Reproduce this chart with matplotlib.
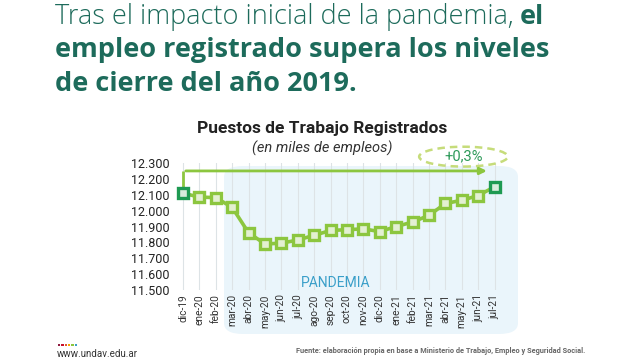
import numpy as np
import matplotlib
matplotlib.use("Agg")
import matplotlib.pyplot as plt
from matplotlib.patches import FancyBboxPatch, Ellipse, Rectangle

# datos (miles de empleos)
meses = ["dic-19", "ene-20", "feb-20", "mar-20", "abr-20", "may-20", "jun-20",
         "jul-20", "ago-20", "sep-20", "oct-20", "nov-20", "dic-20", "ene-21",
         "feb-21", "mar-21", "abr-21", "may-21", "jun-21", "jul-21"]
empleo = [12110, 12085, 12082, 12020, 11860, 11790, 11795, 11815, 11845, 11875,
          11880, 11885, 11868, 11900, 11928, 11970, 12045, 12065, 12095, 12150]
yticks = [11500, 11600, 11700, 11800, 11900, 12000, 12100, 12200, 12300]
ytick_labels = ["11.500", "11.600", "11.700", "11.800", "11.900",
                "12.000", "12.100", "12.200", "12.300"]

teal = "#1d6b5b"
verde = "#8cc63f"
verde_osc = "#1e9a52"
tfont = "Open Sans"

plt.rcParams["font.family"] = ["Roboto", "DejaVu Sans"]

fig = plt.figure(figsize=(6.4, 3.62), dpi=100)
fig.patch.set_facecolor("white")

# titulo principal
t1 = fig.text(55 / 640, 1 - 17 / 362, "Tras el impacto inicial de la pandemia,", fontsize=19.5,
              family=tfont, weight="light", color=teal, va="center", ha="left")
fig.canvas.draw()
bb = t1.get_window_extent()
fig.text(bb.x1 / 640 + 0.009, 1 - 17 / 362, "el", fontsize=19.5, family=tfont, weight="bold",
         color=teal, va="center", ha="left")
fig.text(55 / 640, 1 - 50 / 362, "empleo registrado supera los niveles", fontsize=19.5,
         family=tfont, weight="bold", color=teal, va="center", ha="left")
fig.text(55 / 640, 1 - 84 / 362, "de cierre del año 2019.", fontsize=19.5,
         family=tfont, weight="bold", color=teal, va="center", ha="left")

# subtitulos del grafico
fig.text(322 / 640, 1 - 128 / 362, "Puestos de Trabajo Registrados", fontsize=12.5,
         weight="bold", color="#222222", ha="center", va="center")
fig.text(322 / 640, 1 - 148 / 362, "(en miles de empleos)", fontsize=10.5,
         style="italic", color="#333333", ha="center", va="center")

# zona pandemia
band = FancyBboxPatch((224 / 640, 1 - 334 / 362), (518 - 224) / 640, (334 - 166) / 362,
                      boxstyle="round,pad=0,rounding_size=0.03", transform=fig.transFigure,
                      facecolor="#eaf5fb", edgecolor="none", zorder=-1)
fig.patches.append(band)

ax = fig.add_axes([174 / 640, 1 - 290 / 362, (520 - 174) / 640, 127 / 362])
ax.patch.set_alpha(0)
x = np.arange(len(meses))
ax.set_xlim(-0.55, 20.55)
ax.set_ylim(11500, 12300)

for xi in x:
    ax.axvline(xi, color="#dde3e6", lw=0.8, zorder=0)

ax.plot(x, empleo, color=verde, lw=2.6, zorder=2)
ax.plot(x[1:-1], empleo[1:-1], ls="none", marker="s", ms=7.5, mfc="#e3f0d2",
        mec=verde, mew=2.4, zorder=3)
ax.plot([x[0], x[-1]], [empleo[0], empleo[-1]], ls="none", marker="s", ms=7.5,
        mfc="#d8ecdc", mec=verde_osc, mew=2.4, zorder=4)

# flecha de comparacion
ax.plot([0, 0], [12135, 12250], color=verde, lw=2, zorder=2, solid_capstyle="butt")
ax.annotate("", xy=(18.7, 12250), xytext=(0, 12250),
            arrowprops=dict(arrowstyle="-|>", color=verde, lw=2, mutation_scale=10),
            zorder=2, annotation_clip=False)
ax.add_patch(Ellipse((17.1, 12340), 5.4, 125, fill=False, ls=(0, (3, 2)),
                     edgecolor="#c6dc7a", lw=1.8, clip_on=False))
ax.text(17.1, 12340, "+0,3%", color="#2e9a5a", fontsize=10.5, ha="center", va="center",
        clip_on=False)

ax.text(9.3, 11545, "PANDEMIA", color="#3a9fc9", fontsize=10, ha="center", va="center")

ax.set_xticks(x)
ax.set_xticklabels(meses, rotation=90, fontsize=7.3, color="#333333")
ax.set_yticks(yticks)
ax.set_yticklabels(ytick_labels, fontsize=9, color="#222222")
ax.tick_params(length=0, pad=3)
for s in ax.spines.values():
    s.set_visible(False)

# pie
cols = ["#8e1b3f", "#c8102e", "#e4572e", "#f4a300", "#8cc63f", "#3aa0c8"]
for i, c in enumerate(cols):
    fig.patches.append(Rectangle(((58 + i * 3.3) / 640, 1 - 346 / 362), 2.4 / 640, 2.4 / 362,
                                 transform=fig.transFigure, facecolor=c, edgecolor="none"))
fig.text(57 / 640, 1 - 354 / 362, "www.undav.edu.ar", fontsize=7, color="#333333",
         ha="left", va="center")
fig.text(585 / 640, 1 - 351 / 362,
         "Fuente: elaboración propia en base a Ministerio de Trabajo, Empleo y Seguridad Social.",
         fontsize=5.3, weight="bold", color="#666666", ha="right", va="center")

fig.savefig("out.png", dpi=100)
